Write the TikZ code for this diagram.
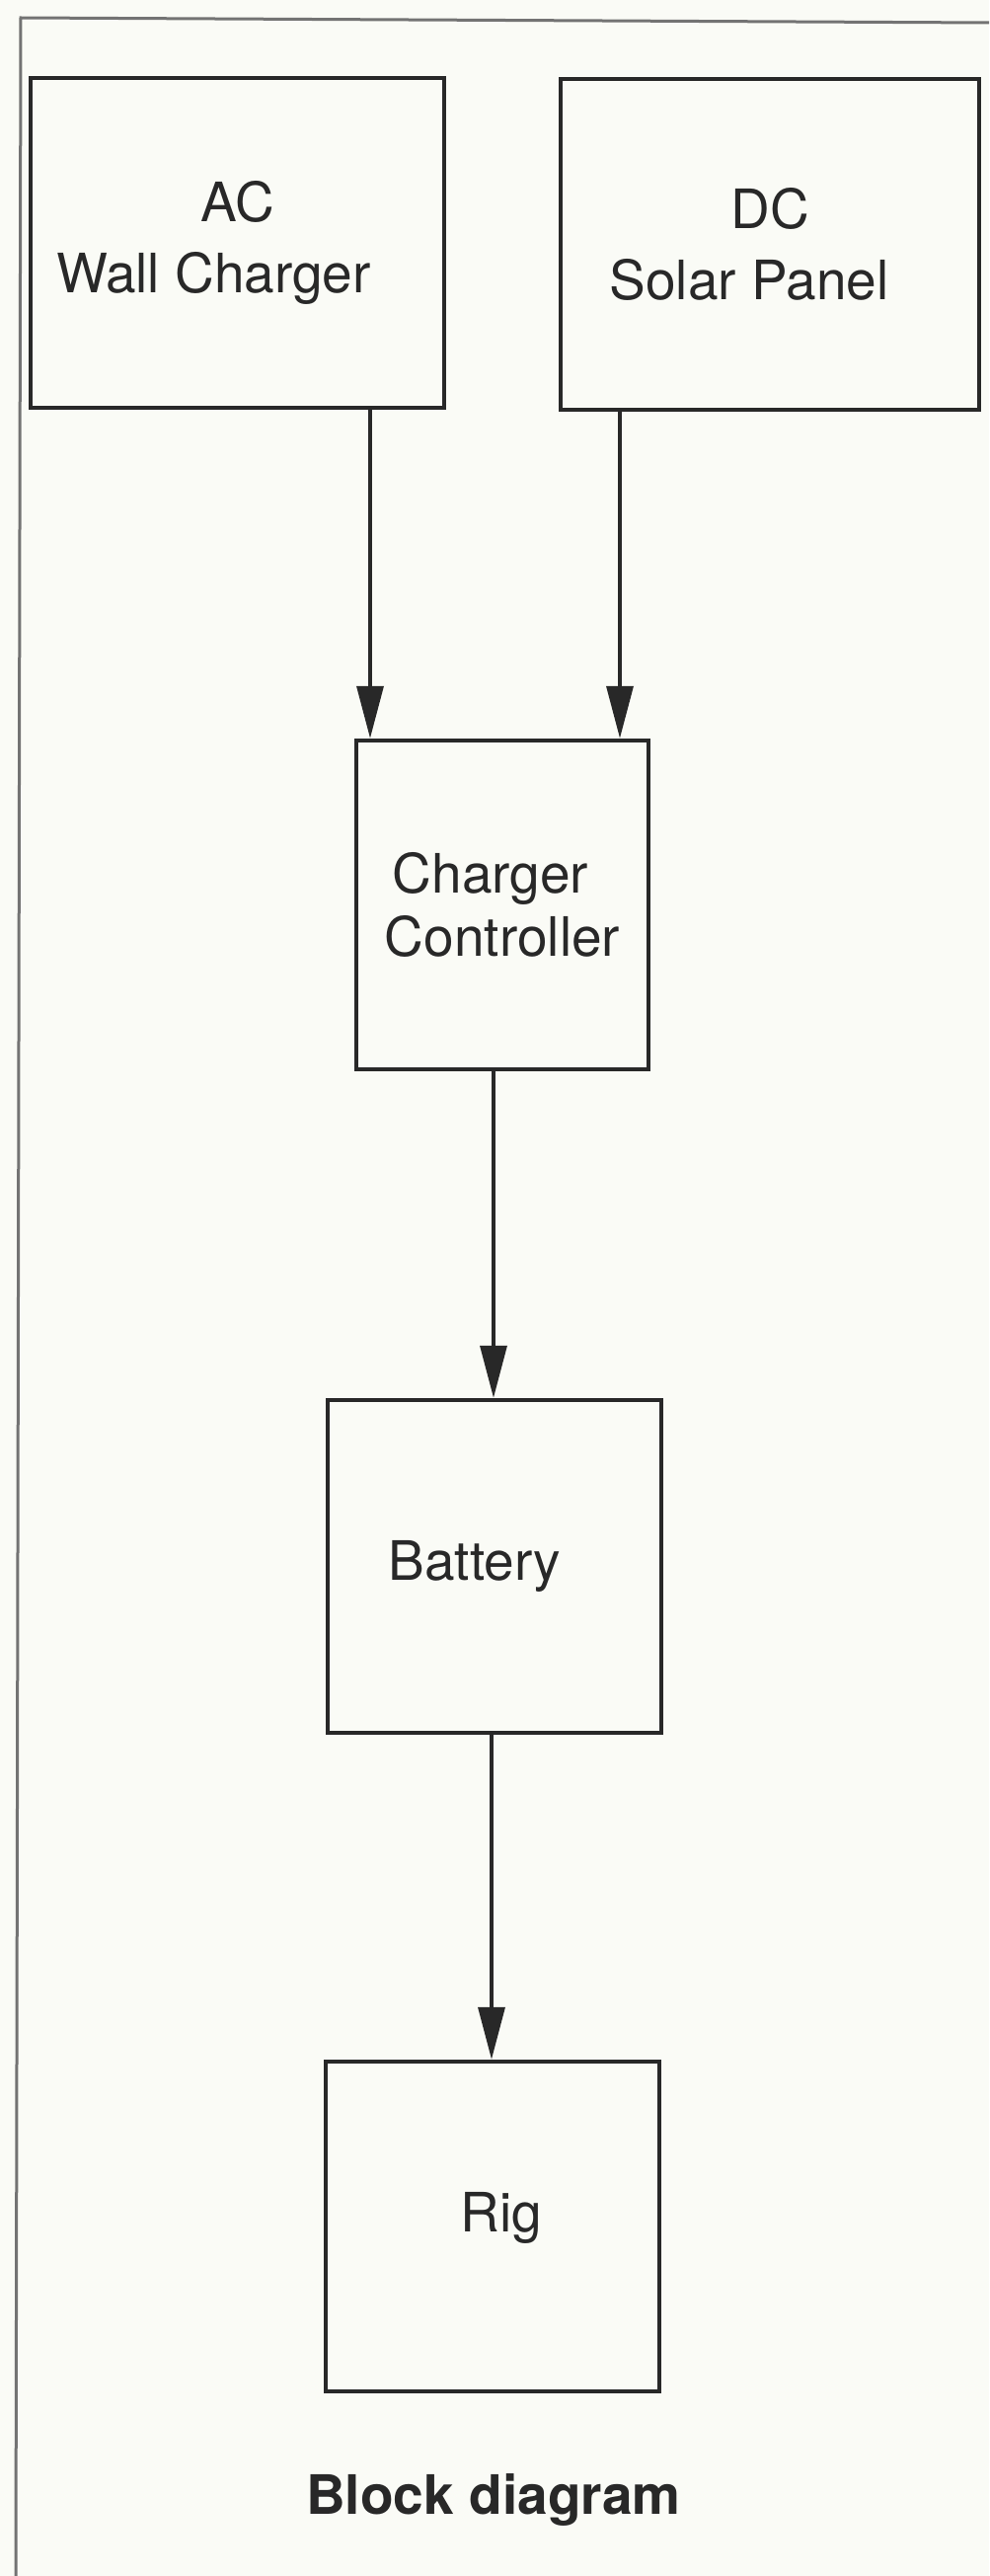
\documentclass[tikz,border=0pt]{standalone}
\usepackage{fontspec}
\setmainfont{TeX Gyre Heros}
\usetikzlibrary{arrows.meta}
\definecolor{ink}{RGB}{40,40,40}
\definecolor{paper}{RGB}{250,251,246}
\definecolor{framegray}{RGB}{115,115,115}
\begin{document}
\begin{tikzpicture}[x=1pt,y=-1pt,
  blockbox/.style={draw=ink, line width=4.5pt, rectangle, inner sep=0pt,
    text=ink, align=center, font=\fontsize{55}{72}\selectfont},
  arr/.style={draw=ink, line width=3.5pt, -{Triangle[length=53pt,width=27pt]}}]
\fill[paper] (0,0) rectangle (1002,2609);
\useasboundingbox (0,0) rectangle (1002,2609);
\draw[framegray, line width=3pt] (1002,23) -- (21,18) -- (16,2609);

\node[blockbox, minimum width=419pt, minimum height=334pt] (ac) at (240.5,246)
  {AC\\Wall Charger\hspace*{48pt}};
\node[blockbox, minimum width=424pt, minimum height=335pt] (dc) at (780,247.5)
  {DC\\Solar Panel\hspace*{42pt}};
\node[blockbox, minimum width=296pt, minimum height=333pt, font=\fontsize{55}{64}\selectfont] (ctrl) at (509,916.5)
  {Charger\hspace*{24pt}\\Controller};
\node[blockbox, minimum width=338pt, minimum height=337pt] (bat) at (501,1586.5)
  {Battery\hspace*{40pt}};
\node[blockbox, minimum width=338pt, minimum height=334pt] (rig) at (499,2255)
  {\hspace*{18pt}Rig\rule[-30pt]{0pt}{30pt}};
\node[anchor=base, inner sep=0pt, text=ink, font=\bfseries\fontsize{55}{66}\selectfont] (title) at (500,2546)
  {Block diagram};

\draw[arr] ([xshift=134.5pt]ac.south) -- ([xshift=134.5pt]ac.south |- ctrl.north);
\draw[arr] ([xshift=-152pt]dc.south) -- ([xshift=-152pt]dc.south |- ctrl.north);
\draw[arr] ([xshift=-9pt]ctrl.south) -- ([xshift=-9pt]ctrl.south |- bat.north);
\draw[arr] ([xshift=-3pt]bat.south) -- ([xshift=-3pt]bat.south |- rig.north);
\end{tikzpicture}
\end{document}
